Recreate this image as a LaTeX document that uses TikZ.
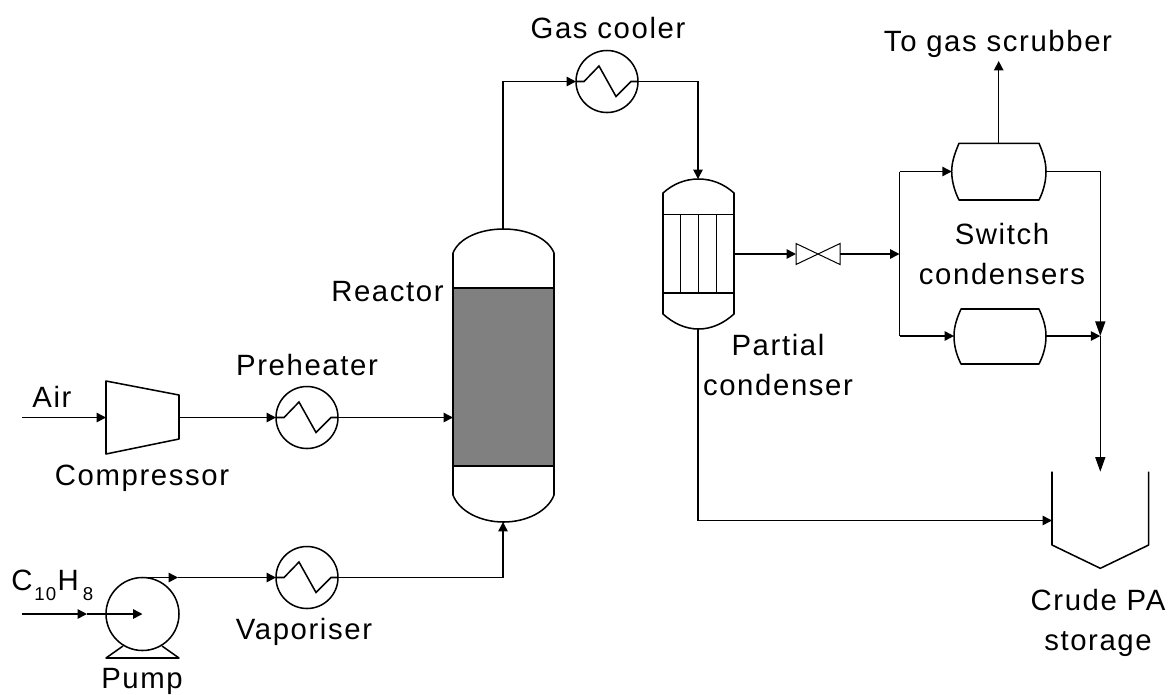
\documentclass[tikz,border=0pt]{standalone}
\usepackage{fontspec}
\setmainfont[LetterSpace=5.5]{Liberation Sans}
\usetikzlibrary{arrows.meta,calc}
\tikzset{
  x=0.75pt,y=-0.75pt,
  pipe/.style={line width=1.15pt,line join=miter},
  flow/.style={pipe,-{Triangle[length=7pt,width=7pt]}},
  longflow/.style={pipe,-{Triangle[length=11pt,width=7.5pt]}},
  vessel/.style={line width=1.15pt,line join=round},
  hx/.style={circle,draw,line width=1.15pt,minimum size=46.5pt,inner sep=0pt,outer sep=0pt},
  lbl/.style={inner sep=0pt,font=\fontsize{22}{29.5}\selectfont,align=center,text=black},
}
\begin{document}
\begin{tikzpicture}
\useasboundingbox (0,0) rectangle (1171,694);
% named points
\coordinate (airin) at (22,417.5);
\coordinate (compin) at (106,417.5);
\coordinate (compout) at (179,417.5);
\coordinate (pumpin) at (22,614);
\coordinate (pumpmid) at (87,614);
\coordinate (pumpc) at (142.5,614);
\coordinate (pumptop) at (142.5,577.5);
\coordinate (pumparr) at (178,577.5);
\coordinate (reacl) at (453,417.5);
\coordinate (reacb) at (503,522);
\coordinate (react) at (503,229);
\coordinate (pct) at (698,179);
\coordinate (pcb) at (698,329);
\coordinate (pcr) at (734,254);
\coordinate (tankl) at (1052,520.5);
\coordinate (vl) at (796,254);
\coordinate (vr) at (840,254);
\coordinate (sj) at (899.5,254);
\coordinate (sjt) at (899.5,171.5);
\coordinate (sjb) at (899.5,336);
\coordinate (ucl) at (951.7,171.5);
\coordinate (ucr) at (1046,171.5);
\coordinate (uct) at (998.7,143.3);
\coordinate (scrub) at (998.7,61);
\coordinate (lcl) at (954,336);
\coordinate (lcr) at (1046,336);
\coordinate (cj) at (1100.3,336);
\coordinate (tanktop) at (1100.3,471.7);
% heat exchangers
\node[hx] (pre) at (307,417.5) {};
\node[hx] (vap) at (307,577.5) {};
\node[hx] (cool) at (607,81.5) {};
\foreach \n in {pre,vap,cool}
  \draw[pipe] ($(\n.west)$) -- ++(8,0) -- ++(15,-15.5) -- ++(17,30.5) -- ++(15,-15) -- (\n.east);
% compressor
\draw[vessel] (106,381) -- (179,395) -- (179,439) -- (106,454) -- cycle;
% pump
\node[circle,draw,line width=1.15pt,minimum size=54.75pt,inner sep=0pt,outer sep=0pt] (pump) at (pumpc) {};
\draw[vessel] (123,646) -- (106,658) -- (179,658) -- (162,646);
% reactor
\fill[black!50] (453,288) rectangle (554,466);
\draw[vessel] (453,288) -- (453,253) .. controls (459,238) and (480,229) .. (503.5,229) .. controls (527,229) and (548,238) .. (554,253) -- (554,495) .. controls (548,511) and (527,522) .. (503.5,522) .. controls (480,522) and (459,511) .. (453,495) -- cycle;
\draw[vessel] (453,288) -- (554,288) (453,466) -- (554,466);
% partial condenser
\draw[vessel] (663,193) .. controls (673,184) and (685,179) .. (698.5,179) .. controls (712,179) and (724,184) .. (734,193) -- (734,314) .. controls (724,323) and (712,329) .. (698.5,329) .. controls (685,329) and (673,323) .. (663,314) -- cycle;
\draw[vessel] (663,214.7) -- (734,214.7) (663,293) -- (734,293);
\foreach \x in {680.7,698.7,716.7}
  \draw[vessel] (\x,214.7) -- (\x,293);
% valve
\draw[line width=0.75pt] (796,243.5) -- (840,264.5) -- (840,243.5) -- (796,264.5) -- cycle;
% switch condensers
\draw[vessel] (959,143.3) -- (1039,143.3) .. controls (1044,155) and (1046,163) .. (1046,171.5) .. controls (1046,180) and (1044,190) .. (1039,200) -- (959,200) .. controls (954,190) and (951.7,180) .. (951.7,171.5) .. controls (951.7,163) and (954,155) .. (959,143.3) -- cycle;
\draw[vessel] (961,309) -- (1039,309) .. controls (1044,320) and (1046,328) .. (1046,336) .. controls (1046,345) and (1044,354) .. (1039,364) -- (961,364) .. controls (956,354) and (954,345) .. (954,336) .. controls (954,328) and (956,320) .. (961,309) -- cycle;
% storage
\draw[vessel] (1052,471.7) -- (1052,545) -- (1100.3,568.3) -- (1148.7,545) -- (1148.7,471.7);
% connectors
\draw[flow] (airin) -- (compin);
\draw[flow] (compout) -- (pre.west);
\draw[flow] (pre.east) -- (reacl);
\draw[flow] (pumpin) -- (pumpmid);
\draw[flow] (pumpmid) -- (pumpc);
\draw[flow] (pumptop) -- (pumparr);
\draw[flow] (pumparr) -- (vap.west);
\draw[flow] (vap.east) -| (reacb);
\draw[flow] (react) |- (cool.west);
\draw[flow] (cool.east) -| (pct);
\draw[flow] (pcr) -- (vl);
\draw[flow] (vr) -- (sj);
\draw[flow] (sjt) -- (ucl);
\draw[flow] (sjb) -- (lcl);
\draw[pipe] (sjt) -- (sjb);
\draw[flow] (uct) -- (scrub);
\draw[longflow] (ucr) -| (cj);
\draw[flow] (lcr) -- (cj);
\draw[longflow] (cj) -- (tanktop);
\draw[flow] (pcb) |- (tankl);
% labels
\node[lbl] (tair) at (52,397) {Air};
\node[lbl] (tcomp) at (142,478) {Compressor};
\node[lbl] (tpre) at (307,365) {Preheater};
\node[lbl] (tvap) at (304,632) {Vaporiser};
\node[lbl] (tpump) at (142,681) {Pump};
\node[lbl] (treac) at (387.5,292) {Reactor};
\node[lbl] (tgas) at (608,28) {Gas cooler};
\node[lbl] (tscrub) at (998,44) {To gas scrubber};
\node[lbl] (tpart) at (778,365) {Partial\\condenser};
\node[lbl] (tsw) at (1002,254) {Switch\\condensers};
\node[lbl] (tcrude) at (1098,623) {Crude PA\\storage};
\node[lbl,anchor=base west] (tc) at (11,590) {C\kern1.5pt\raisebox{-8pt}{\fontsize{14}{14}\selectfont 10}\kern1pt H\kern3pt\raisebox{-8pt}{\fontsize{14}{14}\selectfont 8}};
\end{tikzpicture}
\end{document}
